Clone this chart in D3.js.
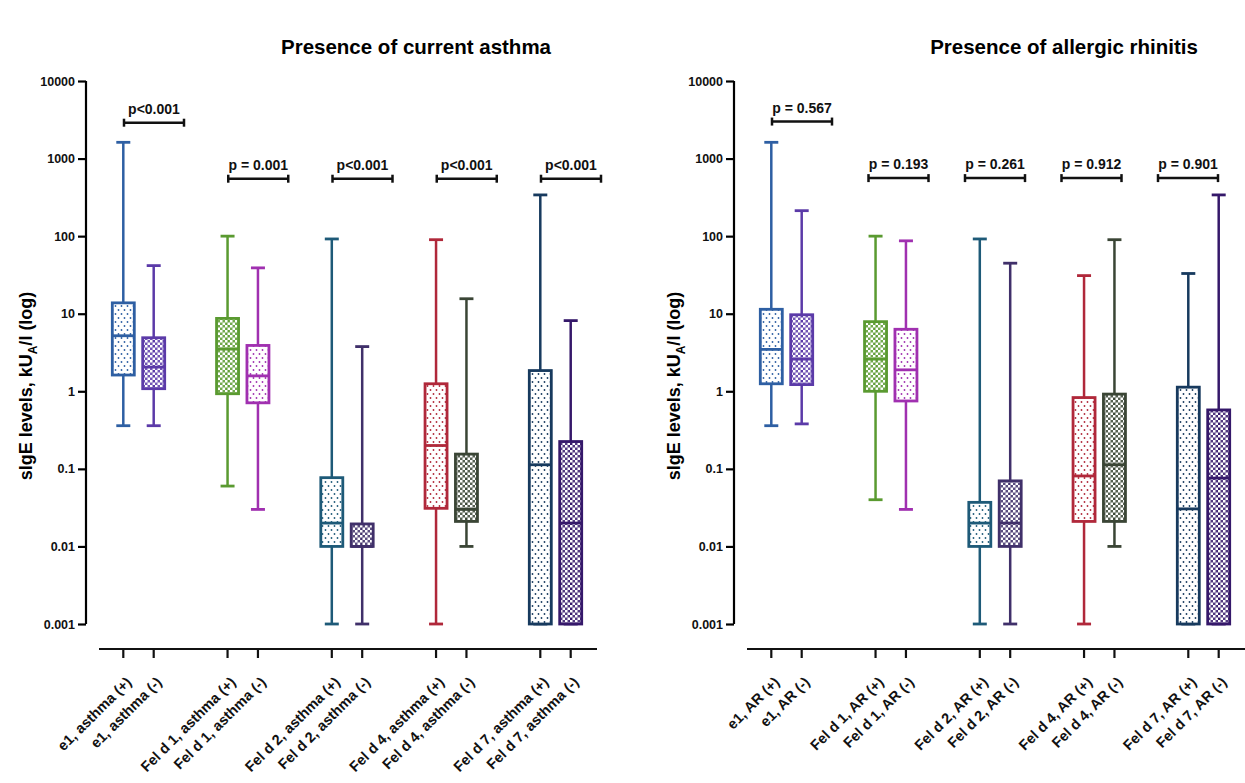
<!DOCTYPE html>
<html>
<head>
<meta charset="utf-8">
<script src="https://cdn.jsdelivr.net/npm/d3@7"></script>
<style>
  body { margin: 0; background: #fff; }
  svg { display: block; font-family: "Liberation Sans", Arial, sans-serif; }
  .title { font-size: 20.5px; font-weight: bold; }
  .tick text { font-size: 12.5px; font-weight: bold; }
  .xlab { font-size: 14.5px; font-weight: bold; }
  .ptext { font-size: 14px; font-weight: bold; }
  .ylab { font-size: 18px; font-weight: bold; }
</style>
</head>
<body>
<svg id="chart" width="1245" height="783"></svg>
<script>
// allergen groups and box colours (+ / -)
const groups = ['e1', 'Fel d 1', 'Fel d 2', 'Fel d 4', 'Fel d 7'];
const colorsPos = ['#2e5fa3', '#5a9a30', '#1e5a78', '#b0283a', '#173a5e'];
const colorsNeg = ['#5b3aa8', '#a030b0', '#40306a', '#3a4535', '#35186a'];
// pattern kind per box: (+) then (-)
const patternPos = ['dots', 'checker', 'dots', 'dots', 'dots'];
const patternNeg = ['checker', 'dots', 'checker', 'checker', 'checker'];

const yTicks = [0.001, 0.01, 0.1, 1, 10, 100, 1000, 10000];
const yTickLabels = ['0.001', '0.01', '0.1', '1', '10', '100', '1000', '10000'];

// asthma panel, order: g1(+), g1(-), g2(+), ...
const asthmaLabels = ['e1, asthma (+)', 'e1, asthma (-)', 'Fel d 1, asthma (+)', 'Fel d 1, asthma (-)',
  'Fel d 2, asthma (+)', 'Fel d 2, asthma (-)', 'Fel d 4, asthma (+)', 'Fel d 4, asthma (-)',
  'Fel d 7, asthma (+)', 'Fel d 7, asthma (-)'];
const asthmaMin = [0.36, 0.36, 0.06, 0.03, 0.001, 0.001, 0.001, 0.01, 0.001, 0.001];
const asthmaQ1 = [1.62, 1.08, 0.93, 0.71, 0.01, 0.01, 0.031, 0.021, 0.001, 0.001];
const asthmaMed = [5.2, 2.05, 3.5, 1.58, 0.02, 0.01, 0.2, 0.03, 0.113, 0.02];
const asthmaQ3 = [13.8, 4.9, 8.7, 3.9, 0.077, 0.0195, 1.25, 0.155, 1.85, 0.225];
const asthmaMax = [1620, 41.7, 100, 39, 92, 3.77, 90, 15.6, 340, 8.15];
const asthmaP = ['p<0.001', 'p = 0.001', 'p<0.001', 'p<0.001', 'p<0.001'];
const asthmaPLevel = [2900, 550, 550, 550, 550];

// allergic rhinitis panel
const arLabels = ['e1, AR (+)', 'e1, AR (-)', 'Fel d 1, AR (+)', 'Fel d 1, AR (-)',
  'Fel d 2, AR (+)', 'Fel d 2, AR (-)', 'Fel d 4, AR (+)', 'Fel d 4, AR (-)',
  'Fel d 7, AR (+)', 'Fel d 7, AR (-)'];
const arMin = [0.36, 0.38, 0.04, 0.03, 0.001, 0.001, 0.001, 0.01, 0.001, 0.001];
const arQ1 = [1.25, 1.22, 1.0, 0.75, 0.01, 0.01, 0.021, 0.021, 0.001, 0.001];
const arMed = [3.47, 2.6, 2.6, 1.89, 0.02, 0.02, 0.081, 0.113, 0.0305, 0.076];
const arQ3 = [11.4, 9.7, 7.9, 6.3, 0.037, 0.07, 0.83, 0.92, 1.13, 0.575];
const arMax = [1620, 213, 100, 87, 92, 44.8, 31, 90, 33, 340];
const arP = ['p = 0.567', 'p = 0.193', 'p = 0.261', 'p = 0.912', 'p = 0.901'];
const arPLevel = [3000, 560, 560, 560, 560];

const svg = d3.select('#chart');
const defs = svg.append('defs');

function makePattern(id, kind, color) {
  if (kind === 'dots') {
    const p = defs.append('pattern').attr('id', id)
      .attr('patternUnits', 'userSpaceOnUse').attr('width', 6).attr('height', 8);
    p.append('rect').attr('width', 6).attr('height', 8).attr('fill', '#fff');
    p.append('circle').attr('cx', 1.5).attr('cy', 2).attr('r', 0.9).attr('fill', color);
    p.append('circle').attr('cx', 4.5).attr('cy', 6).attr('r', 0.9).attr('fill', color);
  } else {
    const p = defs.append('pattern').attr('id', id)
      .attr('patternUnits', 'userSpaceOnUse').attr('width', 5).attr('height', 5);
    p.append('rect').attr('width', 5).attr('height', 5).attr('fill', color).attr('fill-opacity', 0.85);
    p.append('rect').attr('width', 2.5).attr('height', 2.5).attr('fill', '#fff');
    p.append('rect').attr('x', 2.5).attr('y', 2.5).attr('width', 2.5).attr('height', 2.5).attr('fill', '#fff');
  }
}

groups.forEach((g, i) => {
  makePattern('pat-' + i + '-pos', patternPos[i], colorsPos[i]);
  makePattern('pat-' + i + '-neg', patternNeg[i], colorsNeg[i]);
});

const y = d3.scaleLog().domain([0.001, 10000]).range([624, 81]);

function drawPanel(offsetX, title, labels, mins, q1s, meds, q3s, maxs, pTexts, pLevels, bracketRange) {
  const g = svg.append('g').attr('transform', `translate(${offsetX},0)`);

  const xGroup = d3.scalePoint().domain(groups).range([138.5, 555.5]);
  const xSub = d3.scalePoint().domain(['+', '-']).range([-15.2, 15.2]);
  const xBracket = d3.scalePoint().domain(groups).range(bracketRange);

  const rows = labels.map((lab, i) => ({
    label: lab,
    group: groups[Math.floor(i / 2)],
    gi: Math.floor(i / 2),
    sign: i % 2 === 0 ? '+' : '-',
    min: mins[i], q1: q1s[i], med: meds[i], q3: q3s[i], max: maxs[i]
  }));
  const xPos = d => xGroup(d.group) + xSub(d.sign);

  g.append('text').attr('class', 'title')
    .attr('x', 416).attr('y', 54).attr('text-anchor', 'middle').text(title);

  // y axis
  const yAxis = d3.axisLeft(y).tickValues(yTicks)
    .tickFormat((d, i) => yTickLabels[i]).tickSize(8).tickPadding(3);
  const ya = g.append('g').attr('transform', `translate(86,0)`).call(yAxis);
  ya.select('.domain').attr('stroke-width', 2.2).attr('d', 'M0,81V624');
  ya.selectAll('.tick line').attr('stroke-width', 2.2);
  ya.selectAll('.tick text').attr('fill', '#111');

  const yl = g.append('text').attr('class', 'ylab')
    .attr('transform', `translate(32,386) rotate(-90)`).attr('text-anchor', 'middle');
  yl.append('tspan').text('sIgE levels, kU');
  yl.append('tspan').attr('dy', 5).attr('font-size', 12).text('A');
  yl.append('tspan').attr('dy', -5).text('/l (log)');

  // x axis
  const xAxisG = g.append('g');
  xAxisG.append('line').attr('x1', 99).attr('x2', 597)
    .attr('y1', 649).attr('y2', 649).attr('stroke', '#111').attr('stroke-width', 2.2);
  xAxisG.selectAll('.xt').data(rows).join('line').attr('class', 'xt')
    .attr('x1', xPos).attr('x2', xPos).attr('y1', 649).attr('y2', 658)
    .attr('stroke', '#111').attr('stroke-width', 2.2);
  xAxisG.selectAll('.xlab').data(rows).join('text').attr('class', 'xlab')
    .attr('text-anchor', 'end')
    .attr('transform', d => `translate(${xPos(d) + 9},683) rotate(-45)`)
    .attr('fill', '#111')
    .text(d => d.label);

  // boxes
  const bw = 22, cap = 14;
  const box = g.selectAll('.box').data(rows).join('g').attr('class', 'box');
  const col = d => d.sign === '+' ? colorsPos[d.gi] : colorsNeg[d.gi];
  box.append('line')
    .attr('x1', xPos).attr('x2', xPos)
    .attr('y1', d => y(d.max)).attr('y2', d => y(d.min))
    .attr('stroke', col).attr('stroke-width', 2.5);
  box.append('line')
    .attr('x1', d => xPos(d) - cap / 2).attr('x2', d => xPos(d) + cap / 2)
    .attr('y1', d => y(d.max)).attr('y2', d => y(d.max))
    .attr('stroke', col).attr('stroke-width', 2.8);
  box.append('line')
    .attr('x1', d => xPos(d) - cap / 2).attr('x2', d => xPos(d) + cap / 2)
    .attr('y1', d => y(d.min)).attr('y2', d => y(d.min))
    .attr('stroke', col).attr('stroke-width', 2.8);
  box.append('rect')
    .attr('x', d => xPos(d) - bw / 2).attr('width', bw)
    .attr('y', d => y(d.q3)).attr('height', d => y(d.q1) - y(d.q3))
    .attr('fill', d => `url(#pat-${d.gi}-${d.sign === '+' ? 'pos' : 'neg'})`)
    .attr('stroke', col).attr('stroke-width', 2.8);
  box.append('line')
    .attr('x1', d => xPos(d) - bw / 2).attr('x2', d => xPos(d) + bw / 2)
    .attr('y1', d => y(d.med)).attr('y2', d => y(d.med))
    .attr('stroke', col).attr('stroke-width', 2.8);

  // p-value brackets
  const blen = 60;
  const br = g.selectAll('.bracket').data(groups).join('g').attr('class', 'bracket');
  const bx1 = d => xBracket(d);
  const bx2 = d => xBracket(d) + blen;
  br.append('line').attr('x1', bx1).attr('x2', bx2)
    .attr('y1', (d, i) => y(pLevels[i])).attr('y2', (d, i) => y(pLevels[i]))
    .attr('stroke', '#111').attr('stroke-width', 2.5);
  br.append('line').attr('x1', bx1).attr('x2', bx1)
    .attr('y1', (d, i) => y(pLevels[i]) - 4).attr('y2', (d, i) => y(pLevels[i]) + 4)
    .attr('stroke', '#111').attr('stroke-width', 2.5);
  br.append('line').attr('x1', bx2).attr('x2', bx2)
    .attr('y1', (d, i) => y(pLevels[i]) - 4).attr('y2', (d, i) => y(pLevels[i]) + 4)
    .attr('stroke', '#111').attr('stroke-width', 2.5);
  br.append('text').attr('class', 'ptext')
    .attr('x', d => (bx1(d) + bx2(d)) / 2)
    .attr('y', (d, i) => y(pLevels[i]) - 9)
    .attr('text-anchor', 'middle').attr('fill', '#111')
    .text((d, i) => pTexts[i]);
}

drawPanel(0, 'Presence of current asthma', asthmaLabels, asthmaMin, asthmaQ1, asthmaMed, asthmaQ3, asthmaMax, asthmaP, asthmaPLevel, [124, 541]);
drawPanel(648, 'Presence of allergic rhinitis', arLabels, arMin, arQ1, arMed, arQ3, arMax, arP, arPLevel, [124, 510]);
</script>
</body>
</html>
